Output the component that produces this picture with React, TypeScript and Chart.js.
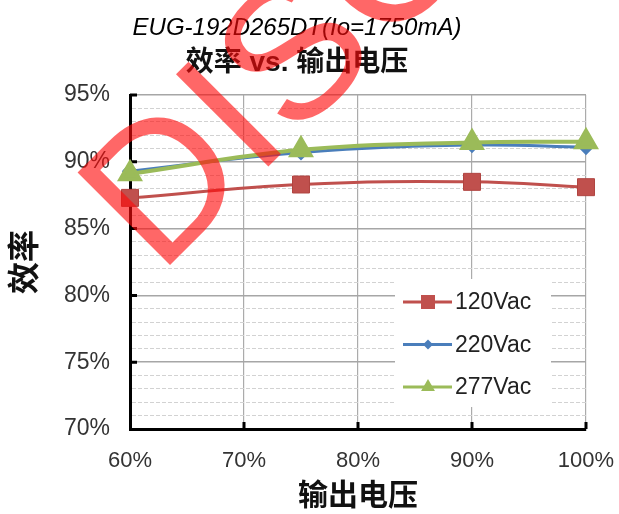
import React, { useEffect, useRef } from 'react';
import { Chart, registerables } from 'chart.js';

Chart.register(...registerables);

// ---- data ----
const loadLevels = [60, 75, 90, 100];
const eff120 = [87.3, 88.3, 88.5, 88.1];
const eff220 = [89.3, 90.7, 91.25, 91.1];
const eff277 = [89.1, 90.9, 91.45, 91.5];
const seriesLabels = ['120Vac', '220Vac', '277Vac'];
const seriesColors = ['#C0504D', '#4A7EBB', '#9BBB59'];
const yMajorTicks = [70, 75, 80, 85, 90, 95];
const xMajorTicks = [60, 70, 80, 90, 100];
const titleText = 'EUG-192D265DT(Io=1750mA)';
const subtitleText = '效率 vs. 输出电压';
const xTitleText = '输出电压';
const yTitleText = '效率';
const watermarkText = 'DISCONTINUED';

const FONT = "'Liberation Sans', Arial, 'Noto Sans CJK SC', sans-serif";

const toPoints = (vals: number[]) => loadLevels.map((x, i) => ({ x, y: vals[i] }));

const axisTickMarks = {
  id: 'axisTickMarks',
  beforeDatasetsDraw(chart: any) {
    const { ctx, chartArea, scales } = chart;
    ctx.save();
    ctx.strokeStyle = '#000';
    ctx.lineWidth = 3;
    ctx.beginPath();
    yMajorTicks.forEach((v) => {
      if (v === yMajorTicks[0]) return;
      const y = scales.y.getPixelForValue(v);
      ctx.moveTo(chartArea.left, y);
      ctx.lineTo(chartArea.left + 7, y);
    });
    xMajorTicks.forEach((v) => {
      if (v === xMajorTicks[0]) return;
      const x = scales.x.getPixelForValue(v);
      ctx.moveTo(x, chartArea.bottom);
      ctx.lineTo(x, chartArea.bottom - 7);
    });
    ctx.stroke();
    ctx.restore();
  },
};

function drawMarker(ctx: any, style: string, x: number, y: number, r: number, color: string) {
  ctx.fillStyle = color;
  ctx.beginPath();
  if (style === 'rect') {
    ctx.rect(x - r, y - r, 2 * r, 2 * r);
  } else if (style === 'rectRot') {
    ctx.moveTo(x, y - r);
    ctx.lineTo(x + r, y);
    ctx.lineTo(x, y + r);
    ctx.lineTo(x - r, y);
    ctx.closePath();
  } else {
    ctx.moveTo(x, y - r);
    ctx.lineTo(x + r * 0.87, y + r * 0.5);
    ctx.lineTo(x - r * 0.87, y + r * 0.5);
    ctx.closePath();
  }
  ctx.fill();
}

const innerLegend = {
  id: 'innerLegend',
  afterDatasetsDraw(chart: any) {
    const { ctx, chartArea } = chart;
    const boxRight = chartArea.right - 35;
    const boxBottom = chartArea.bottom - 22;
    const boxW = 156;
    const boxH = 128;
    const left = boxRight - boxW;
    const top = boxBottom - boxH;
    ctx.save();
    ctx.fillStyle = '#ffffff';
    ctx.fillRect(left, top, boxW, boxH);
    const styles = ['rect', 'rectRot', 'triangle'];
    const sizes = [7, 5, 8];
    chart.data.datasets.forEach((ds: any, i: number) => {
      const cy = top + 23 + i * 42.5;
      const lx = left + 8;
      ctx.strokeStyle = ds.borderColor;
      ctx.lineWidth = 3;
      ctx.beginPath();
      ctx.moveTo(lx, cy);
      ctx.lineTo(lx + 49, cy);
      ctx.stroke();
      drawMarker(ctx, styles[i], lx + 25, cy, sizes[i], ds.borderColor);
      ctx.fillStyle = '#222';
      ctx.font = `23px ${FONT}`;
      ctx.textBaseline = 'middle';
      ctx.textAlign = 'left';
      ctx.fillText(ds.label, lx + 52, cy + 1);
    });
    ctx.restore();
  },
};

const watermark = {
  id: 'watermark',
  afterDraw(chart: any) {
    const { ctx } = chart;
    ctx.save();
    ctx.translate(159, 276);
    ctx.rotate(-Math.PI / 4);
    ctx.font = `190px ${FONT}`;
    ctx.fillStyle = 'rgba(255, 10, 10, 0.62)';
    ctx.textBaseline = 'alphabetic';
    ctx.textAlign = 'left';
    ctx.fillText(watermarkText, 0, 0);
    ctx.restore();
  },
};

export default function App() {
  const ref = useRef<HTMLCanvasElement | null>(null);
  useEffect(() => {
    if (!ref.current) return;
    const chart = new Chart(ref.current, {
      type: 'line',
      data: {
        datasets: [
          {
            label: seriesLabels[0],
            data: toPoints(eff120),
            borderColor: seriesColors[0],
            backgroundColor: seriesColors[0],
            borderWidth: 3,
            pointStyle: 'rect',
            pointRadius: 12,
            pointBorderColor: '#b04440',
            pointBorderWidth: 1,
            tension: 0.4,
            clip: false,
            order: 2,
          },
          {
            label: seriesLabels[1],
            data: toPoints(eff220),
            borderColor: seriesColors[1],
            backgroundColor: seriesColors[1],
            borderWidth: 3,
            pointStyle: 'rectRot',
            pointRadius: 6,
            tension: 0.4,
            clip: false,
            order: 1,
          },
          {
            label: seriesLabels[2],
            data: toPoints(eff277),
            borderColor: seriesColors[2],
            backgroundColor: seriesColors[2],
            borderWidth: 4,
            pointStyle: 'triangle',
            pointRadius: 11,
            tension: 0.4,
            clip: false,
            order: 0,
          },
        ],
      },
      options: {
        responsive: false,
        animation: false,
        layout: { padding: { left: 8, right: 33, top: 0, bottom: 0 } },
        plugins: {
          legend: { display: false },
          tooltip: { enabled: false },
          title: {
            display: true,
            text: titleText,
            color: '#000',
            font: { family: FONT, size: 24, style: 'italic', weight: 'normal', lineHeight: 1.2 },
            padding: { top: 13.5, bottom: 4.5 },
          },
          subtitle: {
            display: true,
            text: subtitleText,
            color: '#111',
            font: { family: FONT, size: 28, weight: 'bold', lineHeight: 1.2 },
            padding: { top: 0, bottom: 14.6 },
          },
        },
        scales: {
          x: {
            type: 'linear',
            min: 60,
            max: 100,
            afterFit: (s: any) => {
              s.height = 85;
              s.paddingLeft = 0;
              s.paddingRight = 0;
            },
            ticks: {
              stepSize: 10,
              callback: (v: any) => (xMajorTicks.includes(v) ? `${v}%` : ''),
              color: '#333',
              font: { family: FONT, size: 22 },
              padding: 19,
              maxRotation: 0,
              autoSkip: false,
            },
            grid: { color: '#ababab', lineWidth: 1.2, drawTicks: false },
            border: { color: '#000', width: 3 },
            title: {
              display: true,
              text: xTitleText,
              color: '#111',
              font: { family: FONT, size: 30, weight: 'bold', lineHeight: 1 },
              padding: { top: 0, bottom: 2 },
            },
          },
          y: {
            min: 70,
            max: 95,
            afterFit: (s: any) => {
              s.width = 122;
              s.paddingTop = 0;
              s.paddingBottom = 0;
            },
            ticks: {
              stepSize: 1,
              autoSkip: false,
              callback: (v: any) => (yMajorTicks.includes(v) ? `${v}%` : ''),
              color: '#333',
              font: { family: FONT, size: 23 },
              padding: 20,
            },
            grid: {
              drawTicks: false,
              color: (c: any) => (c.tick && c.tick.value % 5 === 0 ? '#a6a6a6' : '#d2d2d2'),
              lineWidth: (c: any) => (c.tick && c.tick.value % 5 === 0 ? 1.5 : 1),
            },
            border: {
              color: '#000',
              width: 3,
              dash: (c: any) => (c.tick && c.tick.value % 5 !== 0 ? [4, 2] : []),
            },
            title: {
              display: true,
              text: yTitleText,
              color: '#111',
              font: { family: FONT, size: 32, weight: 'bold', lineHeight: 1 },
              padding: { top: 2, bottom: 0 },
            },
          },
        },
      },
      plugins: [axisTickMarks, innerLegend, watermark],
    } as any);
    return () => chart.destroy();
  }, []);
  return (
    <div style={{ position: 'fixed', left: 0, top: 0, width: 619, height: 514, background: '#fff' }}>
      <canvas ref={ref} width={619} height={514} />
    </div>
  );
}
